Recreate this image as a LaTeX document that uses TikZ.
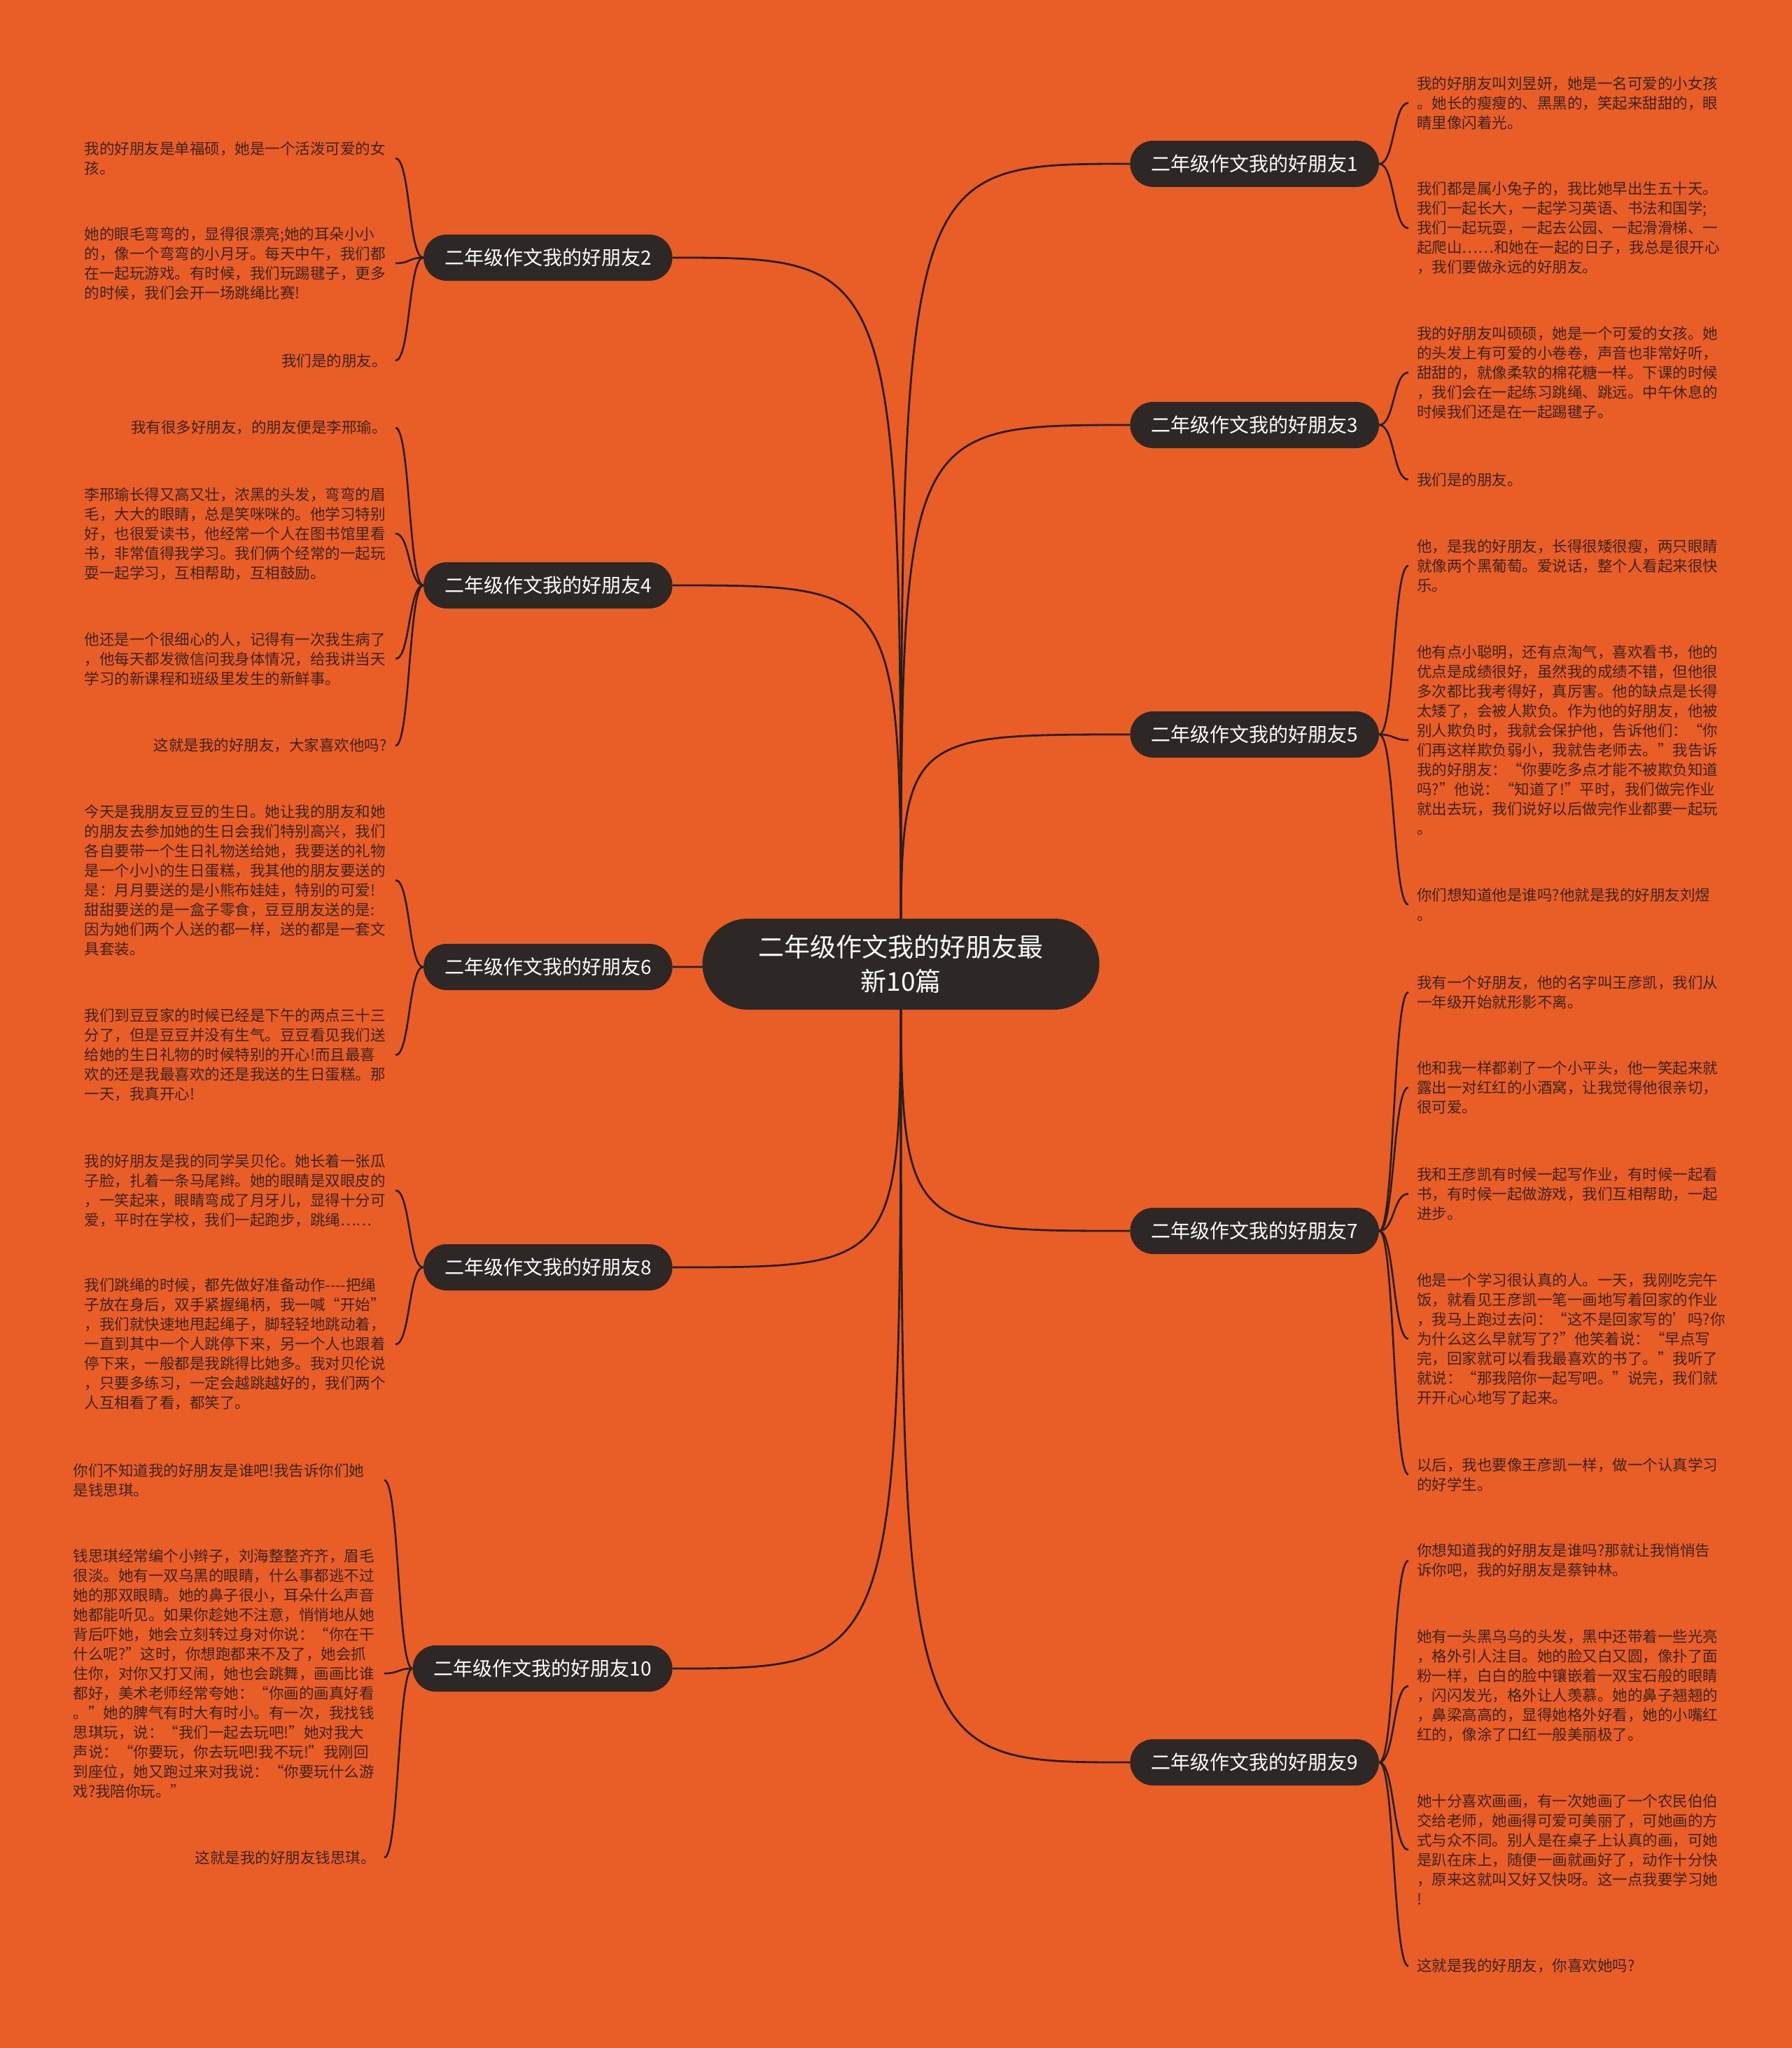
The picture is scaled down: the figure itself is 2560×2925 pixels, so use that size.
\documentclass[tikz,border=0pt]{standalone}
\usepackage{fontspec}
\setmainfont{Noto Sans CJK SC}
\pgfdeclarelayer{bg}
\pgfdeclarelayer{edges}
\pgfsetlayers{bg,edges,main}
\definecolor{bgc}{RGB}{233,93,39}
\definecolor{nodec}{RGB}{45,40,38}
\definecolor{linec}{RGB}{42,30,24}
\definecolor{leafc}{RGB}{62,36,24}
\tikzset{
  leaf/.style={font=\fontsize{10.75}{14}\selectfont, text=leafc, text width=216pt, inner xsep=6pt, inner ysep=0pt},
  leafR/.style={leaf, anchor=west, align=left},
  leafL/.style={leaf, anchor=east, align=left},
  leafLr/.style={leaf, anchor=east, align=right},
  branch/.style={fill=nodec, text=white, font=\fontsize{14}{16}\selectfont, rounded corners=16.5pt, minimum height=33pt, inner xsep=15pt, inner ysep=0pt},
  rootnode/.style={fill=nodec, text=white, font=\fontsize{18.5}{24.25}\selectfont, rounded corners=32.5pt, minimum height=65pt, minimum width=283.5pt, align=center, inner sep=0pt},
  rootline/.style={draw=linec, line width=1.4pt},
  leafline/.style={draw=linec, line width=1.3pt}
}
\begin{document}
\begin{tikzpicture}[x=0.5pt,y=-0.5pt]
\begin{pgfonlayer}{bg}
\fill[bgc] (0,0) rectangle (2560,2925);
\end{pgfonlayer}
\useasboundingbox (0,0) rectangle (2560,2925);

% root
\node[rootnode] (root) at (1287,1377) {二年级作文我的好朋友最\\新10篇};

% branches
\node[branch, anchor=west] (b1) at (1614,234) {二年级作文我的好朋友1};
\node[branch, anchor=west] (b3) at (1614,607) {二年级作文我的好朋友3};
\node[branch, anchor=west] (b5) at (1614,1049) {二年级作文我的好朋友5};
\node[branch, anchor=west] (b7) at (1614,1758) {二年级作文我的好朋友7};
\node[branch, anchor=west] (b9) at (1614,2517) {二年级作文我的好朋友9};
\node[branch, anchor=east] (b2) at (961,368) {二年级作文我的好朋友2};
\node[branch, anchor=east] (b4) at (961,836) {二年级作文我的好朋友4};
\node[branch, anchor=east] (b6) at (961,1381) {二年级作文我的好朋友6};
\node[branch, anchor=east] (b8) at (961,1810) {二年级作文我的好朋友8};
\node[branch, anchor=east] (b10) at (961,2383) {二年级作文我的好朋友10};

% right leaves
\node[leafR] (r1a) at (2012,147) {我的好朋友叫刘昱妍，她是一名可爱的小女孩\\。她长的瘦瘦的、黑黑的，笑起来甜甜的，眼\\睛里像闪着光。};
\node[leafR] (r1b) at (2012,326) {我们都是属小兔子的，我比她早出生五十天。\\我们一起长大，一起学习英语、书法和国学;\\我们一起玩耍，一起去公园、一起滑滑梯、一\\起爬山……和她在一起的日子，我总是很开心\\，我们要做永远的好朋友。};
\node[leafR] (r3a) at (2012,532) {我的好朋友叫硕硕，她是一个可爱的女孩。她\\的头发上有可爱的小卷卷，声音也非常好听，\\甜甜的，就像柔软的棉花糖一样。下课的时候\\，我们会在一起练习跳绳、跳远。中午休息的\\时候我们还是在一起踢毽子。};
\node[leafR] (r3b) at (2012,685) {我们是的朋友。};
\node[leafR] (r5a) at (2012,808) {他，是我的好朋友，长得很矮很瘦，两只眼睛\\就像两个黑葡萄。爱说话，整个人看起来很快\\乐。};
\node[leafR] (r5b) at (2012,1057) {他有点小聪明，还有点淘气，喜欢看书，他的\\优点是成绩很好，虽然我的成绩不错，但他很\\多次都比我考得好，真厉害。他的缺点是长得\\太矮了，会被人欺负。作为他的好朋友，他被\\别人欺负时，我就会保护他，告诉他们：“你\\们再这样欺负弱小，我就告老师去。”我告诉\\我的好朋友：“你要吃多点才能不被欺负知道\\吗?”他说：“知道了!”平时，我们做完作业\\就出去玩，我们说好以后做完作业都要一起玩\\。};
\node[leafR] (r5c) at (2012,1292) {你们想知道他是谁吗?他就是我的好朋友刘煜\\。};
\node[leafR] (r7a) at (2012,1417) {我有一个好朋友，他的名字叫王彦凯，我们从\\一年级开始就形影不离。};
\node[leafR] (r7b) at (2012,1553) {他和我一样都剃了一个小平头，他一笑起来就\\露出一对红红的小酒窝，让我觉得他很亲切，\\很可爱。};
\node[leafR] (r7c) at (2012,1705) {我和王彦凯有时候一起写作业，有时候一起看\\书，有时候一起做游戏，我们互相帮助，一起\\进步。};
\node[leafR] (r7d) at (2012,1912) {他是一个学习很认真的人。一天，我刚吃完午\\饭，就看见王彦凯一笔一画地写着回家的作业\\，我马上跑过去问：“这不是回家写的'吗?你\\为什么这么早就写了?”他笑着说：“早点写\\完，回家就可以看我最喜欢的书了。”我听了\\就说：“那我陪你一起写吧。”说完，我们就\\开开心心地写了起来。};
\node[leafR] (r7e) at (2012,2106) {以后，我也要像王彦凯一样，做一个认真学习\\的好学生。};
\node[leafR] (r9a) at (2012,2229) {你想知道我的好朋友是谁吗?那就让我悄悄告\\诉你吧，我的好朋友是蔡钟林。};
\node[leafR] (r9b) at (2012,2408) {她有一头黑乌乌的头发，黑中还带着一些光亮\\，格外引人注目。她的脸又白又圆，像扑了面\\粉一样，白白的脸中镶嵌着一双宝石般的眼睛\\，闪闪发光，格外让人羡慕。她的鼻子翘翘的\\，鼻梁高高的，显得她格外好看，她的小嘴红\\红的，像涂了口红一般美丽极了。};
\node[leafR] (r9c) at (2012,2642) {她十分喜欢画画，有一次她画了一个农民伯伯\\交给老师，她画得可爱可美丽了，可她画的方\\式与众不同。别人是在桌子上认真的画，可她\\是趴在床上，随便一画就画好了，动作十分快\\，原来这就叫又好又快呀。这一点我要学习她\\!};
\node[leafR] (r9d) at (2012,2808) {这就是我的好朋友，你喜欢她吗?};

% left leaves
\node[leafL] (l2a) at (565,226) {我的好朋友是单福硕，她是一个活泼可爱的女\\孩。};
\node[leafL] (l2b) at (565,376) {她的眼毛弯弯的，显得很漂亮;她的耳朵小小\\的，像一个弯弯的小月牙。每天中午，我们都\\在一起玩游戏。有时候，我们玩踢毽子，更多\\的时候，我们会开一场跳绳比赛!};
\node[leafLr] (l2c) at (565,515) {我们是的朋友。};
\node[leafLr] (l4a) at (565,611) {我有很多好朋友，的朋友便是李邢瑜。};
\node[leafL] (l4b) at (565,762) {李邢瑜长得又高又壮，浓黑的头发，弯弯的眉\\毛，大大的眼睛，总是笑咪咪的。他学习特别\\好，也很爱读书，他经常一个人在图书馆里看\\书，非常值得我学习。我们俩个经常的一起玩\\耍一起学习，互相帮助，互相鼓励。};
\node[leafL] (l4c) at (565,941) {他还是一个很细心的人，记得有一次我生病了\\，他每天都发微信问我身体情况，给我讲当天\\学习的新课程和班级里发生的新鲜事。};
\node[leafLr] (l4d) at (565,1065) {这就是我的好朋友，大家喜欢他吗?};
\node[leafL] (l6a) at (565,1257) {今天是我朋友豆豆的生日。她让我的朋友和她\\的朋友去参加她的生日会我们特别高兴，我们\\各自要带一个生日礼物送给她，我要送的礼物\\是一个小小的生日蛋糕，我其他的朋友要送的\\是：月月要送的是小熊布娃娃，特别的可爱!\\甜甜要送的是一盒子零食，豆豆朋友送的是:\\因为她们两个人送的都一样，送的都是一套文\\具套装。};
\node[leafL] (l6b) at (565,1507) {我们到豆豆家的时候已经是下午的两点三十三\\分了，但是豆豆并没有生气。豆豆看见我们送\\给她的生日礼物的时候特别的开心!而且最喜\\欢的还是我最喜欢的还是我送的生日蛋糕。那\\一天，我真开心!};
\node[leafL] (l8a) at (565,1700) {我的好朋友是我的同学吴贝伦。她长着一张瓜\\子脸，扎着一条马尾辫。她的眼睛是双眼皮的\\，一笑起来，眼睛弯成了月牙儿，显得十分可\\爱，平时在学校，我们一起跑步，跳绳……};
\node[leafL] (l8b) at (565,1920) {我们跳绳的时候，都先做好准备动作-{}-{}-{}-把绳\\子放在身后，双手紧握绳柄，我一喊“开始”\\，我们就快速地甩起绳子，脚轻轻地跳动着，\\一直到其中一个人跳停下来，另一个人也跟着\\停下来，一般都是我跳得比她多。我对贝伦说\\，只要多练习，一定会越跳越好的，我们两个\\人互相看了看，都笑了。};
\node[leafL] (l10a) at (549,2114) {你们不知道我的好朋友是谁吧!我告诉你们她\\是钱思琪。};
\node[leafL] (l10b) at (549,2390) {钱思琪经常编个小辫子，刘海整整齐齐，眉毛\\很淡。她有一双乌黑的眼睛，什么事都逃不过\\她的那双眼睛。她的鼻子很小，耳朵什么声音\\她都能听见。如果你趁她不注意，悄悄地从她\\背后吓她，她会立刻转过身对你说：“你在干\\什么呢?”这时，你想跑都来不及了，她会抓\\住你，对你又打又闹，她也会跳舞，画画比谁\\都好，美术老师经常夸她：“你画的画真好看\\。”她的脾气有时大有时小。有一次，我找钱\\思琪玩，说：“我们一起去玩吧!”她对我大\\声说：“你要玩，你去玩吧!我不玩!”我刚回\\到座位，她又跑过来对我说：“你要玩什么游\\戏?我陪你玩。”};
\node[leafLr] (l10c) at (549,2653) {这就是我的好朋友钱思琪。};

% connectors
\begin{pgfonlayer}{edges}
\foreach \b in {b1,b3,b5,b7,b9}
  \draw[rootline] (root.center) .. controls (root.center |- \b.west) .. (\b.west);
\foreach \b in {b2,b4,b6,b8,b10}
  \draw[rootline] (root.center) .. controls (root.center |- \b.east) .. (\b.east);
\foreach \b/\l in {b1/r1a,b1/r1b,b3/r3a,b3/r3b,b5/r5a,b5/r5b,b5/r5c,b7/r7a,b7/r7b,b7/r7c,b7/r7d,b7/r7e,b9/r9a,b9/r9b,b9/r9c,b9/r9d}
  \draw[leafline] (\b.east) .. controls +(22,0) and +(-22,0) .. (\l.west);
\foreach \b/\l in {b2/l2a,b2/l2b,b2/l2c,b4/l4a,b4/l4b,b4/l4c,b4/l4d,b6/l6a,b6/l6b,b8/l8a,b8/l8b,b10/l10a,b10/l10b,b10/l10c}
  \draw[leafline] (\b.west) .. controls +(-21,0) and +(21,0) .. (\l.east);
\end{pgfonlayer}
\end{tikzpicture}
\end{document}
